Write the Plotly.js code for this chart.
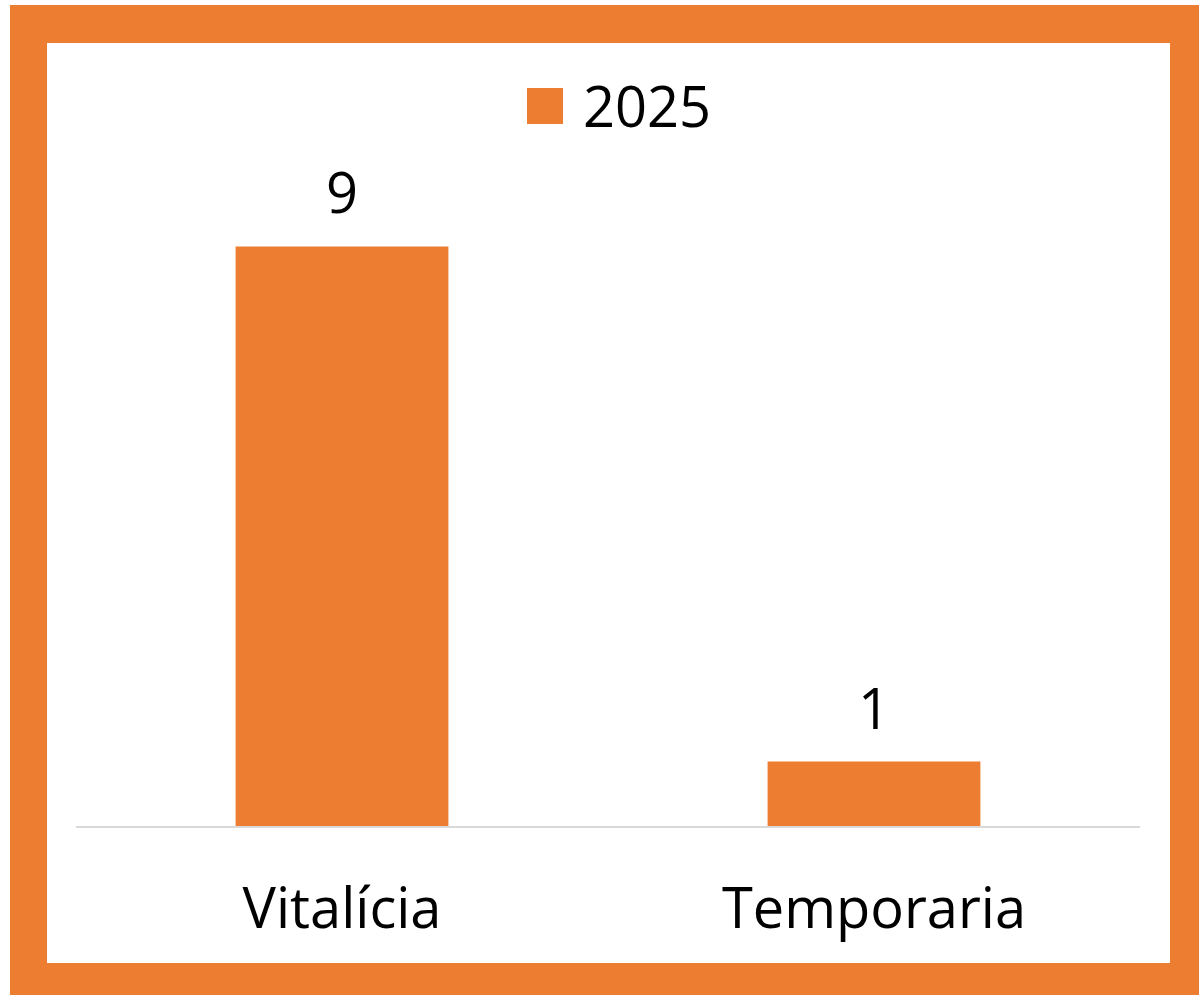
<!DOCTYPE html>
<html>
<head>
<meta charset="utf-8">
<script src="https://cdn.plot.ly/plotly-3.0.1.min.js"></script>
<style>
  html, body { margin: 0; padding: 0; background: #ffffff; width: 1199px; height: 995px; overflow: hidden; }
  #frame { position: absolute; left: 10px; top: 5px; width: 1189px; height: 990px; background: #ED7D31; }
  #chart { position: absolute; left: 37px; top: 38px; width: 1123px; height: 920px; background: #ffffff; }
</style>
</head>
<body>
<div id="frame"><div id="chart"></div></div>
<script>
const categories = ["Vitalícia", "Temporaria"];
const values2025 = [9, 1];
const seriesName = "2025";

const ORANGE = "#ED7D31";
const FONT = "Open Sans, Noto Sans, sans-serif";
const W = 1123, H = 920;
const M = { l: 29, r: 30, t: 139, b: 137 };
const pw = W - M.l - M.r, ph = H - M.t - M.b;
const px = (x) => (x - M.l) / pw;          // div px -> paper x
const py = (y) => (H - M.b - y) / ph;      // div px -> paper y

const trace = {
  type: "bar",
  x: categories,
  y: values2025,
  name: seriesName,
  marker: { color: ORANGE },
  hoverinfo: "x+y"
};

const labelAnnotations = categories.map((c, i) => ({
  x: c, y: values2025[i], xref: "x", yref: "y",
  text: String(values2025[i]),
  showarrow: false, yanchor: "bottom", yshift: 15,
  font: { family: FONT, size: 56, color: "#000000" }
}));

const layout = {
  width: W, height: H,
  margin: M,
  paper_bgcolor: "#ffffff",
  plot_bgcolor: "#ffffff",
  showlegend: false,
  bargap: 0.6,
  xaxis: {
    showgrid: false, zeroline: false,
    showline: true, linecolor: "#d9d9d9", linewidth: 1.5,
    ticks: "", ticklabelstandoff: 33,
    tickfont: { family: FONT, size: 56, color: "#000000" }
  },
  yaxis: {
    range: [0, 10], visible: false, showgrid: false, zeroline: false
  },
  shapes: [{
    type: "rect", xref: "paper", yref: "paper",
    x0: px(480), x1: px(516), y0: py(81), y1: py(45),
    fillcolor: ORANGE, line: { width: 0 }
  }],
  annotations: labelAnnotations.concat([{
    xref: "paper", yref: "paper", x: px(534), y: py(62),
    xanchor: "left", yanchor: "middle", showarrow: false,
    text: seriesName,
    font: { family: FONT, size: 56, color: "#000000" }
  }])
};

Plotly.newPlot("chart", [trace], layout, { displayModeBar: false, staticPlot: true });
</script>
</body>
</html>
